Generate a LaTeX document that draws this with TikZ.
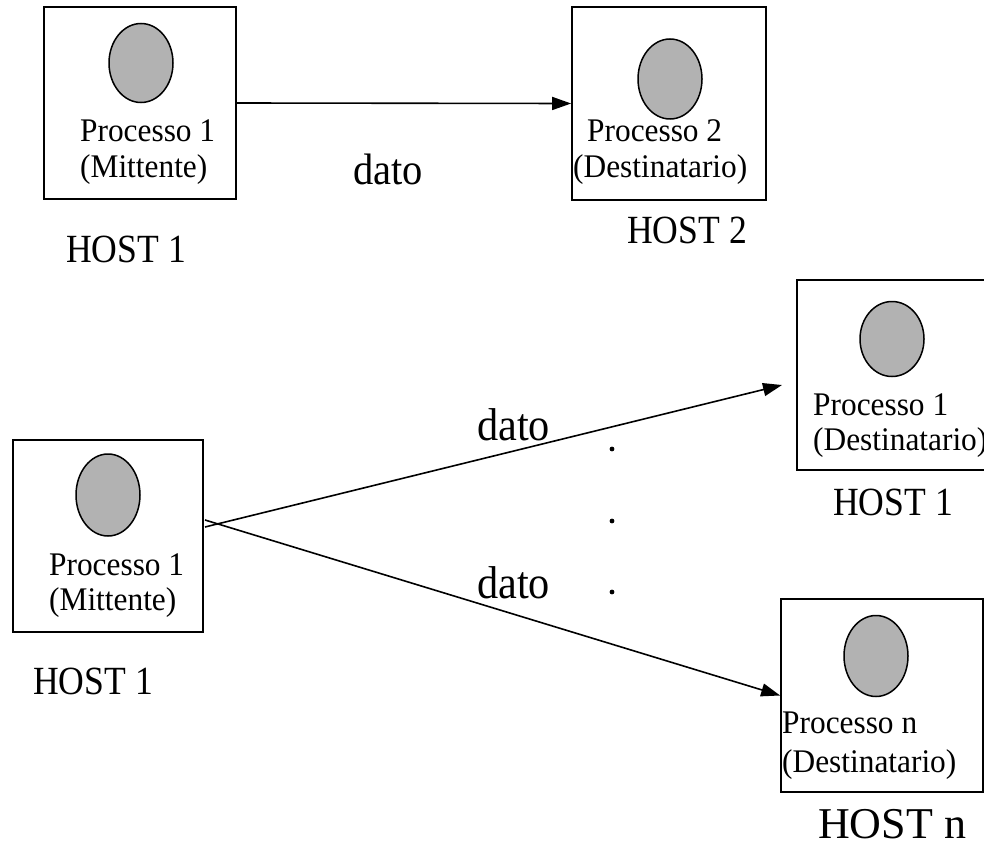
\documentclass[tikz,border=0pt]{standalone}
\usepackage{fontspec}
\setmainfont{Liberation Serif}
\newfontfamily\ptfont[FakeStretch=0.95]{Liberation Serif}
\newfontfamily\hfont[FakeStretch=0.89]{Liberation Serif}
\newfontfamily\dfont[FakeStretch=0.92]{Liberation Serif}
\usetikzlibrary{shapes.geometric,arrows.meta}
\definecolor{procgray}{RGB}{178,178,178}
\begin{document}
\begin{tikzpicture}[x=1pt,y=-1pt,
  hostbox/.style={draw,line width=1.7pt,inner sep=0pt,minimum width=#1},
  proc/.style={ellipse,draw,line width=1.5pt,fill=procgray,inner sep=0pt,minimum width=64pt},
  ptext/.style={anchor=base west,inner sep=0pt,font=\ptfont\fontsize{33}{38}\selectfont},
  htext/.style={anchor=base west,inner sep=0pt,font=\hfont\fontsize{40}{44}\selectfont},
  dtext/.style={anchor=base west,inner sep=0pt,font=\dfont\fontsize{44}{48}\selectfont},
  msg/.style={line width=1.6pt,-{Triangle[length=19pt,width=13pt]}},
  dotmark/.style={fill=black}]
\useasboundingbox (0,0) rectangle (984,845);
% top row
\node[hostbox=192pt,minimum height=192pt] (boxA) at (140,103) {};
\node[hostbox=194pt,minimum height=193pt] (boxB) at (669,103.5) {};
\node[proc,minimum height=79pt] (ellA) at (141,63) {};
\node[proc,minimum height=80pt] (ellB) at (670,79) {};
\node[ptext] (pA1) at (80,142) {Processo 1};
\node[ptext] (pA2) at (80,178) {(Mittente)};
\node[ptext] (pB1) at (587,142) {Processo 2};
\node[ptext] (pB2) at (573,178) {(Destinatario)};
\node[htext] (hA) at (66,262) {HOST 1};
\node[htext] (hB) at (627,243) {HOST 2};
\node[dtext] (d0) at (353,184) {dato};
\draw[msg] (boxA.east) -- (boxB.west);
% bottom part
\node[hostbox=190pt,minimum height=192pt] (boxD) at (108,536) {};
\node[hostbox=196pt,minimum height=190pt] (boxC) at (895,375) {};
\node[hostbox=202pt,minimum height=193pt] (boxE) at (882,695.5) {};
\node[proc,minimum height=82pt] (ellD) at (108,495) {};
\node[proc,minimum height=75pt] (ellC) at (892,339) {};
\node[proc,minimum height=81pt] (ellE) at (876,656) {};
\node[ptext] (pD1) at (49,575) {Processo 1};
\node[ptext] (pD2) at (49,610) {(Mittente)};
\node[ptext] (pC1) at (813,415) {Processo 1};
\node[ptext] (pC2) at (813,450) {(Destinatario)};
\node[ptext] (pE1) at (782,733) {Processo n};
\node[ptext] (pE2) at (782,772) {(Destinatario)};
\node[htext] (hD) at (33,694) {HOST 1};
\node[htext] (hC) at (833,515) {HOST 1};
\node[htext,font=\fontsize{44}{48}\selectfont] (hE) at (818,838) {HOST n};
\node[dtext,font=\dfont\fontsize{46}{50}\selectfont] (d1) at (477,440) {dato};
\node[dtext,font=\dfont\fontsize{46}{50}\selectfont] (d2) at (477,598) {dato};
\coordinate (s1) at (205,527);
\coordinate (s2) at (205,520);
\coordinate (t1) at (782,385);
\draw[msg] (s1) -- (t1);
\draw[msg] (s2) -- (boxE.west);
\fill[dotmark] (612,449) circle (2.4pt);
\fill[dotmark] (612,521) circle (2.4pt);
\fill[dotmark] (612,592) circle (2.4pt);
\end{tikzpicture}
\end{document}
